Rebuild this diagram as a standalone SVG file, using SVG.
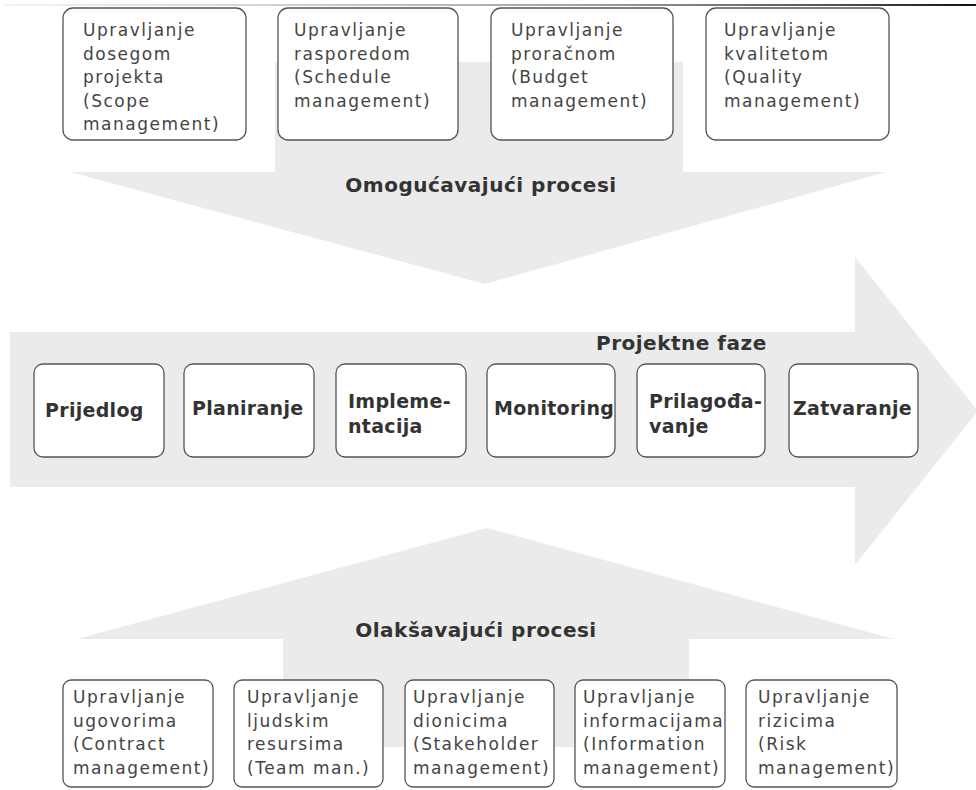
<svg xmlns="http://www.w3.org/2000/svg" width="976" height="790" viewBox="0 0 976 790">
<defs>
<linearGradient id="topline" x1="0" y1="0" x2="1" y2="0">
<stop offset="0" stop-color="#f4f4f4"/>
<stop offset="0.3" stop-color="#cfcfcf"/>
<stop offset="0.6" stop-color="#a0a0a0"/>
<stop offset="0.85" stop-color="#555555"/>
<stop offset="1" stop-color="#111111"/>
</linearGradient>
<style>
.arrow { fill: #ebebeb; stroke: none; }
.box { fill: #ffffff; stroke: #555555; stroke-width: 1.3; }
.t { font-family: "DejaVu Sans", Verdana, sans-serif; font-size: 17px; letter-spacing: 1.5px; fill: #444444; }
.b { font-family: "DejaVu Sans", Verdana, sans-serif; font-weight: bold; font-size: 19px; letter-spacing: 0.3px; fill: #333333; }
.h { font-family: "DejaVu Sans", Verdana, sans-serif; font-weight: bold; font-size: 20px; letter-spacing: 0.5px; fill: #333333; }
</style>
</defs>
<rect width="976" height="790" fill="#ffffff"/>
<rect x="5" y="4" width="971" height="2" fill="url(#topline)"/>

<g id="connectors">
<polygon id="arrow-enabling" class="arrow" points="275,62 683,62 683,172 886,172 485,284 70,172 275,172"/>
<polygon id="arrow-phases" class="arrow" points="10,332 855,332 855,257 978,411 855,565 855,487 10,487"/>
<polygon id="arrow-facilitating" class="arrow" points="283,747 689,747 689,639 894,639 487,528 77,639 283,639"/>
</g>

<g id="label-enabling"><text class="h" x="481" y="192" text-anchor="middle">Omogućavajući procesi</text></g>
<g id="label-phases"><text class="h" x="596" y="350">Projektne faze</text></g>
<g id="label-facilitating"><text class="h" x="476" y="637" text-anchor="middle">Olakšavajući procesi</text></g>

<g id="scope">
<rect class="box" x="63" y="8" width="183" height="132" rx="10"/>
<text class="t" y="36"><tspan x="83">Upravljanje</tspan><tspan x="83" dy="23.5">dosegom</tspan><tspan x="83" dy="23.5">projekta</tspan><tspan x="83" dy="23.5">(Scope</tspan><tspan x="83" dy="23.5">management)</tspan></text>
</g>
<g id="schedule">
<rect class="box" x="278" y="8" width="180" height="132" rx="10"/>
<text class="t" y="36"><tspan x="294">Upravljanje</tspan><tspan x="294" dy="23.5">rasporedom</tspan><tspan x="294" dy="23.5">(Schedule</tspan><tspan x="294" dy="23.5">management)</tspan></text>
</g>
<g id="budget">
<rect class="box" x="491" y="8" width="182" height="132" rx="10"/>
<text class="t" y="36"><tspan x="511">Upravljanje</tspan><tspan x="511" dy="23.5">proračnom</tspan><tspan x="511" dy="23.5">(Budget</tspan><tspan x="511" dy="23.5">management)</tspan></text>
</g>
<g id="quality">
<rect class="box" x="706" y="8" width="183" height="132" rx="10"/>
<text class="t" y="36"><tspan x="724">Upravljanje</tspan><tspan x="724" dy="23.5">kvalitetom</tspan><tspan x="724" dy="23.5">(Quality</tspan><tspan x="724" dy="23.5">management)</tspan></text>
</g>

<g id="prijedlog">
<rect class="box" x="34" y="364" width="130" height="93" rx="9"/>
<text class="b" x="45" y="417">Prijedlog</text>
</g>
<g id="planiranje">
<rect class="box" x="184" y="364" width="130" height="93" rx="9"/>
<text class="b" x="192" y="415">Planiranje</text>
</g>
<g id="implementacija">
<rect class="box" x="336" y="364" width="130" height="93" rx="9"/>
<text class="b" y="408"><tspan x="348">Impleme-</tspan><tspan x="348" dy="25">ntacija</tspan></text>
</g>
<g id="monitoring">
<rect class="box" x="487" y="364" width="128" height="93" rx="9"/>
<text class="b" x="494" y="415">Monitoring</text>
</g>
<g id="prilagodavanje">
<rect class="box" x="637" y="364" width="128" height="93" rx="9"/>
<text class="b" y="408"><tspan x="649">Prilagođa-</tspan><tspan x="649" dy="25">vanje</tspan></text>
</g>
<g id="zatvaranje">
<rect class="box" x="789" y="364" width="129" height="93" rx="9"/>
<text class="b" x="793" y="415">Zatvaranje</text>
</g>

<g id="contract">
<rect class="box" x="63" y="680" width="150" height="107" rx="8"/>
<text class="t" y="703"><tspan x="73">Upravljanje</tspan><tspan x="73" dy="23.5">ugovorima</tspan><tspan x="73" dy="23.5">(Contract</tspan><tspan x="73" dy="23.5">management)</tspan></text>
</g>
<g id="team">
<rect class="box" x="234" y="680" width="149" height="107" rx="8"/>
<text class="t" y="703"><tspan x="247">Upravljanje</tspan><tspan x="247" dy="23.5">ljudskim</tspan><tspan x="247" dy="23.5">resursima</tspan><tspan x="247" dy="23.5">(Team man.)</tspan></text>
</g>
<g id="stakeholder">
<rect class="box" x="405" y="680" width="149" height="107" rx="8"/>
<text class="t" y="703"><tspan x="413">Upravljanje</tspan><tspan x="413" dy="23.5">dionicima</tspan><tspan x="413" dy="23.5">(Stakeholder</tspan><tspan x="413" dy="23.5">management)</tspan></text>
</g>
<g id="information">
<rect class="box" x="575" y="680" width="150" height="107" rx="8"/>
<text class="t" y="703"><tspan x="583">Upravljanje</tspan><tspan x="583" dy="23.5">informacijama</tspan><tspan x="583" dy="23.5">(Information</tspan><tspan x="583" dy="23.5">management)</tspan></text>
</g>
<g id="risk">
<rect class="box" x="746" y="680" width="151" height="107" rx="8"/>
<text class="t" y="703"><tspan x="758">Upravljanje</tspan><tspan x="758" dy="23.5">rizicima</tspan><tspan x="758" dy="23.5">(Risk</tspan><tspan x="758" dy="23.5">management)</tspan></text>
</g>
</svg>
